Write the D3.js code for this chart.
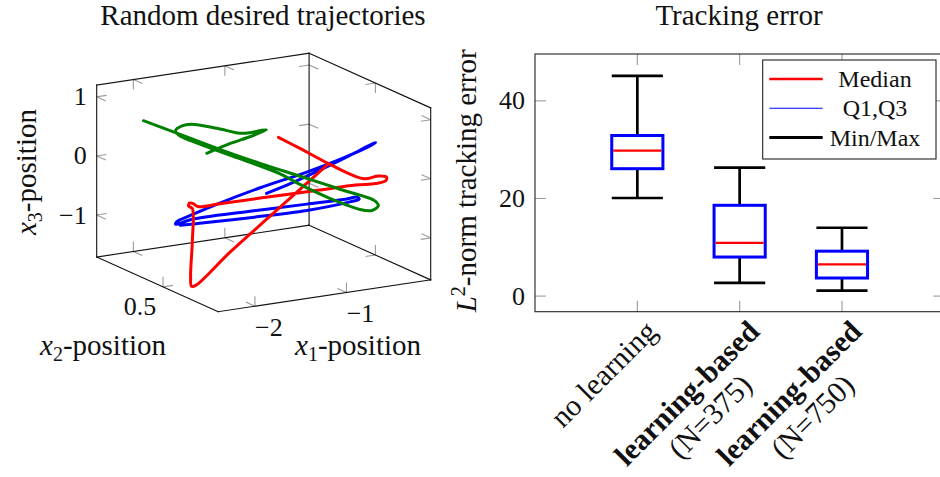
<!DOCTYPE html>
<html>
<head>
<meta charset="utf-8">
<script src="https://cdn.jsdelivr.net/npm/d3@7"></script>
<style>
  body { margin: 0; background: #fff; }
  text { font-family: "Liberation Serif", "DejaVu Serif", serif; fill: #111; }
</style>
</head>
<body>
<div id="chart"></div>
<script>
const width = 940;
const height = 477;

// trajectories [x1, x2, x3]
const trajBlue = [
  [-1.27, 0.50, -0.39], [-1.07, 0.47, -0.23], [-0.81, 0.44, -0.02], [-0.54, 0.41, 0.21],
  [-0.38, 0.39, 0.36], [-0.32, 0.38, 0.42], [-0.37, 0.38, 0.38], [-0.61, 0.40, 0.21],
  [-0.95, 0.44, -0.02], [-1.34, 0.50, -0.28], [-1.68, 0.55, -0.53], [-1.92, 0.59, -0.74],
  [-2.03, 0.61, -0.85], [-2.02, 0.62, -0.91], [-1.90, 0.60, -0.83], [-1.41, 0.52, -0.69],
  [-0.91, 0.46, -0.60], [-0.59, 0.41, -0.52], [-0.50, 0.39, -0.48], [-0.50, 0.38, -0.50],
  [-0.58, 0.39, -0.54], [-0.95, 0.44, -0.67], [-1.45, 0.50, -0.76], [-1.88, 0.56, -0.84],
  [-2.01, 0.60, -0.90]
];
const trajRed = [
  [-1.24, 0.45, 0.62], [-1.04, 0.43, 0.41], [-0.79, 0.41, 0.14], [-0.58, 0.39, -0.07],
  [-0.46, 0.37, -0.15], [-0.33, 0.36, -0.12], [-0.26, 0.35, -0.14], [-0.27, 0.35, -0.20],
  [-0.36, 0.36, -0.24], [-0.54, 0.38, -0.25], [-0.87, 0.41, -0.30], [-1.42, 0.46, -0.38],
  [-1.80, 0.49, -0.43], [-2.02, 0.50, -0.44], [-2.07, 0.50, -0.38], [-2.11, 0.50, -0.36],
  [-2.12, 0.50, -0.41], [-2.10, 0.49, -0.44], [-2.20, 0.44, -0.88], [-2.30, 0.40, -1.41],
  [-2.33, 0.38, -1.55], [-2.28, 0.38, -1.54], [-1.93, 0.37, -1.05], [-1.51, 0.36, -0.52],
  [-1.11, 0.36, -0.06], [-0.88, 0.36, 0.21]
];
const trajGreen = [
  [-1.60, 0.66, 0.14], [-1.43, 0.62, 0.32], [-1.29, 0.58, 0.46], [-1.22, 0.55, 0.57],
  [-1.21, 0.53, 0.63], [-1.29, 0.52, 0.65], [-1.39, 0.53, 0.62], [-1.46, 0.55, 0.60],
  [-1.61, 0.60, 0.65], [-1.79, 0.65, 0.69], [-1.83, 0.68, 0.63], [-1.86, 0.70, 0.53],
  [-1.81, 0.71, 0.43], [-1.56, 0.66, 0.22], [-1.30, 0.60, 0.03], [-1.04, 0.54, -0.17],
  [-0.90, 0.50, -0.33], [-0.66, 0.46, -0.56], [-0.41, 0.42, -0.75], [-0.32, 0.40, -0.76],
  [-0.25, 0.40, -0.70], [-0.25, 0.41, -0.65], [-0.30, 0.42, -0.59], [-0.53, 0.47, -0.45],
  [-0.61, 0.50, -0.40], [-0.80, 0.55, -0.28], [-1.10, 0.62, -0.09], [-1.38, 0.70, 0.10],
  [-1.69, 0.76, 0.34], [-2.01, 0.80, 0.59]
];
const x1Ticks = [-2, -1];
const x2Ticks = [0.5];
const x3Ticks = [-1, 0, 1];

// box plot
const categories = [["no learning"], ["learning-based", "(N=375)"], ["learning-based", "(N=750)"]];
const boldFirst = [false, true, true];
const boxMin = [20.1, 2.7, 1.1];
const boxQ1 = [26.1, 8.0, 3.7];
const boxMedian = [29.8, 10.9, 6.5];
const boxQ3 = [32.9, 18.6, 9.2];
const boxMax = [45.1, 26.3, 14.0];
const yTicks = [0, 20, 40];
const legendItems = ["Median", "Q1,Q3", "Min/Max"];

const svg = d3.select("#chart")
  .append("svg")
  .attr("width", width)
  .attr("height", height);

const tickGray = "#9a9a9a";

// ---------- 3D panel ----------
const s1 = d3.scaleLinear().domain([-2.4, -0.08]).range([0, 1]);
const s2 = d3.scaleLinear().domain([0.2, 0.86]).range([0, 1]);
const s3 = d3.scaleLinear().domain([-1.71, 1.2]).range([0, 1]);
const O = [218.3, 311.7];
const E = [[212.4, -31.8], [-121.6, -54.7], [0, -172]];

function proj(p) {
  const f = [s1(p[0]), s2(p[1]), s3(p[2])];
  return [
    O[0] + f[0] * E[0][0] + f[1] * E[1][0] + f[2] * E[2][0],
    O[1] + f[0] * E[0][1] + f[1] * E[1][1] + f[2] * E[2][1]
  ];
}

const [a0, a1] = s1.domain(), [b0, b1] = s2.domain(), [c0, c1] = s3.domain();

const g3 = svg.append("g");

// tick marks (drawn into the box planes)
function tickDir(sig) {
  const v = [0, 1].map(k => sig[0] * E[0][k] + sig[1] * E[1][k] + sig[2] * E[2][k]);
  const n = Math.hypot(v[0], v[1]);
  return [v[0] / n * 10, v[1] / n * 10];
}
const tickSets = [
  { ticks: x1Ticks, at: (t, e) => [t, e[0], e[1]], edges: [[b0, c0], [b1, c0], [b1, c1]], dirs: [[[0, 1, 0], [0, 0, 1]], [[0, -1, 0], [0, 0, 1]], [[0, -1, 0], [0, 0, -1]]] },
  { ticks: x2Ticks, at: (t, e) => [e[0], t, e[1]], edges: [[a0, c0], [a1, c0], [a1, c1]], dirs: [[[1, 0, 0], [0, 0, 1]], [[-1, 0, 0], [0, 0, 1]], [[-1, 0, 0], [0, 0, -1]]] },
  { ticks: x3Ticks, at: (t, e) => [e[0], e[1], t], edges: [[a0, b1], [a1, b1], [a1, b0]], dirs: [[[1, 0, 0], [0, -1, 0]], [[-1, 0, 0], [0, -1, 0]], [[-1, 0, 0], [0, 1, 0]]] }
];
tickSets.forEach(set => {
  set.edges.forEach((e, i) => {
    set.ticks.forEach(t => {
      const p = proj(set.at(t, e));
      set.dirs[i].forEach(sig => {
        const d = tickDir(sig);
        g3.append("line")
          .attr("x1", p[0]).attr("y1", p[1])
          .attr("x2", p[0] + d[0]).attr("y2", p[1] + d[1])
          .attr("stroke", tickGray).attr("stroke-width", 1.1);
      });
    });
  });
});

// box edges
const boxEdges = [
  [[a0, b1, c0], [a1, b1, c0]], [[a0, b1, c1], [a1, b1, c1]],
  [[a0, b1, c0], [a0, b1, c1]], [[a1, b1, c0], [a1, b1, c1]],
  [[a1, b1, c1], [a1, b0, c1]], [[a1, b1, c0], [a1, b0, c0]],
  [[a1, b0, c0], [a1, b0, c1]],
  [[a0, b1, c0], [a0, b0, c0]], [[a0, b0, c0], [a1, b0, c0]]
];
g3.selectAll("line.edge")
  .data(boxEdges)
  .enter()
  .append("line")
  .attr("class", "edge")
  .attr("x1", d => proj(d[0])[0]).attr("y1", d => proj(d[0])[1])
  .attr("x2", d => proj(d[1])[0]).attr("y2", d => proj(d[1])[1])
  .attr("stroke", "#111").attr("stroke-width", 1.1)
  .attr("stroke-linecap", "square");

// trajectories
const line3 = d3.line().x(d => proj(d)[0]).y(d => proj(d)[1]).curve(d3.curveCatmullRom.alpha(0.5));
[[trajBlue, "#0000ff"], [trajRed, "#ff0000"], [trajGreen, "#008000"]].forEach(([data, col]) => {
  g3.append("path")
    .attr("d", line3(data))
    .attr("fill", "none")
    .attr("stroke", col)
    .attr("stroke-width", 3)
    .attr("stroke-linejoin", "round")
    .attr("stroke-linecap", "round");
});

// tick labels
const numFont = 26;
x3Ticks.forEach(t => {
  const p = proj([a0, b1, t]);
  g3.append("text").attr("x", p[0] - 10).attr("y", p[1])
    .attr("text-anchor", "end").attr("dominant-baseline", "central")
    .attr("font-size", numFont).text(t < 0 ? "\u2212" + Math.abs(t) : t);
});
x1Ticks.forEach(t => {
  const p = proj([t, b0, c0]);
  g3.append("text").attr("x", p[0] + 14).attr("y", p[1] + 21)
    .attr("text-anchor", "middle").attr("dominant-baseline", "central")
    .attr("font-size", numFont).text(t < 0 ? "\u2212" + Math.abs(t) : t);
});
x2Ticks.forEach(t => {
  const p = proj([a0, t, c0]);
  g3.append("text").attr("x", p[0] - 23).attr("y", p[1] + 20)
    .attr("text-anchor", "middle").attr("dominant-baseline", "central")
    .attr("font-size", numFont).text(t);
});

// axis labels with subscripts
function subLabel(parent, idx, x, y, rot) {
  const t = parent.append("text")
    .attr("transform", `translate(${x},${y})` + (rot ? ` rotate(${rot})` : ""))
    .attr("text-anchor", "middle")
    .attr("font-size", 29);
  t.append("tspan").attr("font-style", "italic").text("x");
  t.append("tspan").attr("font-size", 20).attr("dy", 6).text(idx);
  t.append("tspan").attr("dy", -6).text("-position");
}
subLabel(svg, "1", 358, 355, 0);
subLabel(svg, "2", 103, 355, 0);
subLabel(svg, "3", 36, 172, -90);

svg.append("text").attr("x", 263).attr("y", 25)
  .attr("text-anchor", "middle").attr("font-size", 29)
  .text("Random desired trajectories");

// ---------- box plot panel ----------
const xScale = d3.scaleLinear().domain([0, 4]).range([535, 944.3]);
const yScale = d3.scaleLinear().domain([-3.2, 49.6]).range([311.7, 54]);
const gb = svg.append("g");
const tickLen = 11;

yTicks.forEach(t => {
  const y = yScale(t);
  gb.append("line").attr("x1", xScale(0)).attr("x2", xScale(0) + tickLen)
    .attr("y1", y).attr("y2", y).attr("stroke", tickGray).attr("stroke-width", 1.1);
  gb.append("line").attr("x1", xScale(4)).attr("x2", xScale(4) - tickLen)
    .attr("y1", y).attr("y2", y).attr("stroke", tickGray).attr("stroke-width", 1.1);
  gb.append("text").attr("x", xScale(0) - 10).attr("y", y)
    .attr("text-anchor", "end").attr("dominant-baseline", "central")
    .attr("font-size", numFont).text(t);
});
categories.forEach((c, i) => {
  const x = xScale(i + 1);
  gb.append("line").attr("x1", x).attr("x2", x)
    .attr("y1", yScale.range()[0]).attr("y2", yScale.range()[0] - tickLen)
    .attr("stroke", tickGray).attr("stroke-width", 1.1);
  gb.append("line").attr("x1", x).attr("x2", x)
    .attr("y1", yScale.range()[1]).attr("y2", yScale.range()[1] + tickLen)
    .attr("stroke", tickGray).attr("stroke-width", 1.1);
});

gb.append("rect")
  .attr("x", xScale(0)).attr("y", yScale.range()[1])
  .attr("width", xScale(4) - xScale(0))
  .attr("height", yScale.range()[0] - yScale.range()[1])
  .attr("fill", "none").attr("stroke", "#222").attr("stroke-width", 1.1);

const half = 0.25;
categories.forEach((c, i) => {
  const x = i + 1;
  const xl = xScale(x - half), xr = xScale(x + half), xm = xScale(x);
  // whiskers
  [[boxMax[i], boxQ3[i]], [boxQ1[i], boxMin[i]]].forEach(([v1, v2]) => {
    gb.append("line").attr("x1", xm).attr("x2", xm)
      .attr("y1", yScale(v1)).attr("y2", yScale(v2))
      .attr("stroke", "#000").attr("stroke-width", 2.7);
  });
  [boxMax[i], boxMin[i]].forEach(v => {
    gb.append("line").attr("x1", xl).attr("x2", xr)
      .attr("y1", yScale(v)).attr("y2", yScale(v))
      .attr("stroke", "#000").attr("stroke-width", 2.7);
  });
  gb.append("rect")
    .attr("x", xl).attr("y", yScale(boxQ3[i]))
    .attr("width", xr - xl).attr("height", yScale(boxQ1[i]) - yScale(boxQ3[i]))
    .attr("fill", "none").attr("stroke", "#0000ff").attr("stroke-width", 3);
  gb.append("line").attr("x1", xl + 1.5).attr("x2", xr - 1.5)
    .attr("y1", yScale(boxMedian[i])).attr("y2", yScale(boxMedian[i]))
    .attr("stroke", "#ff0000").attr("stroke-width", 2.4);
});

// category labels, rotated
const lineH = 33;
categories.forEach((lines, i) => {
  const g = gb.append("g")
    .attr("transform", `translate(${xScale(i + 1) + 3},${yScale.range()[0] + 3}) rotate(-45)`);
  const texts = lines.map((t, j) => {
    const bold = j === 0 && boldFirst[i];
    return g.append("text")
      .attr("font-size", bold ? 30 : 30)
      .attr("font-weight", bold ? "bold" : "normal")
      .attr("text-anchor", "middle")
      .text(t);
  });
  const maxW = d3.max(texts, t => t.node().getComputedTextLength());
  texts.forEach((t, j) => t.attr("x", -maxW / 2).attr("y", 26 + j * lineH));
});

// y label
const yl = gb.append("text")
  .attr("transform", `translate(476,${(yScale.range()[0] + yScale.range()[1]) / 2 - 2}) rotate(-90)`)
  .attr("text-anchor", "middle").attr("font-size", 29);
yl.append("tspan").attr("font-style", "italic").text("L");
yl.append("tspan").attr("font-size", 20).attr("dy", -11).text("2");
yl.append("tspan").attr("dy", 11).text("-norm tracking error");

gb.append("text").attr("x", 739).attr("y", 25)
  .attr("text-anchor", "middle").attr("font-size", 29)
  .text("Tracking error");

// legend
const lg = gb.append("g");
lg.append("rect").attr("x", 762.7).attr("y", 60).attr("width", 173.3).attr("height", 99)
  .attr("fill", "#fff").attr("stroke", "#222").attr("stroke-width", 1.1);
const legendStyles = [["#ff0000", 2.4], ["#0000ff", 1.1], ["#000", 3]];
legendItems.forEach((t, i) => {
  const y = 79 + i * 29.3;
  lg.append("line").attr("x1", 769.3).attr("x2", 822.7).attr("y1", y).attr("y2", y)
    .attr("stroke", legendStyles[i][0]).attr("stroke-width", legendStyles[i][1]);
  lg.append("text").attr("x", 875).attr("y", y)
    .attr("text-anchor", "middle").attr("dominant-baseline", "central")
    .attr("font-size", 24).text(t);
});
</script>
</body>
</html>
